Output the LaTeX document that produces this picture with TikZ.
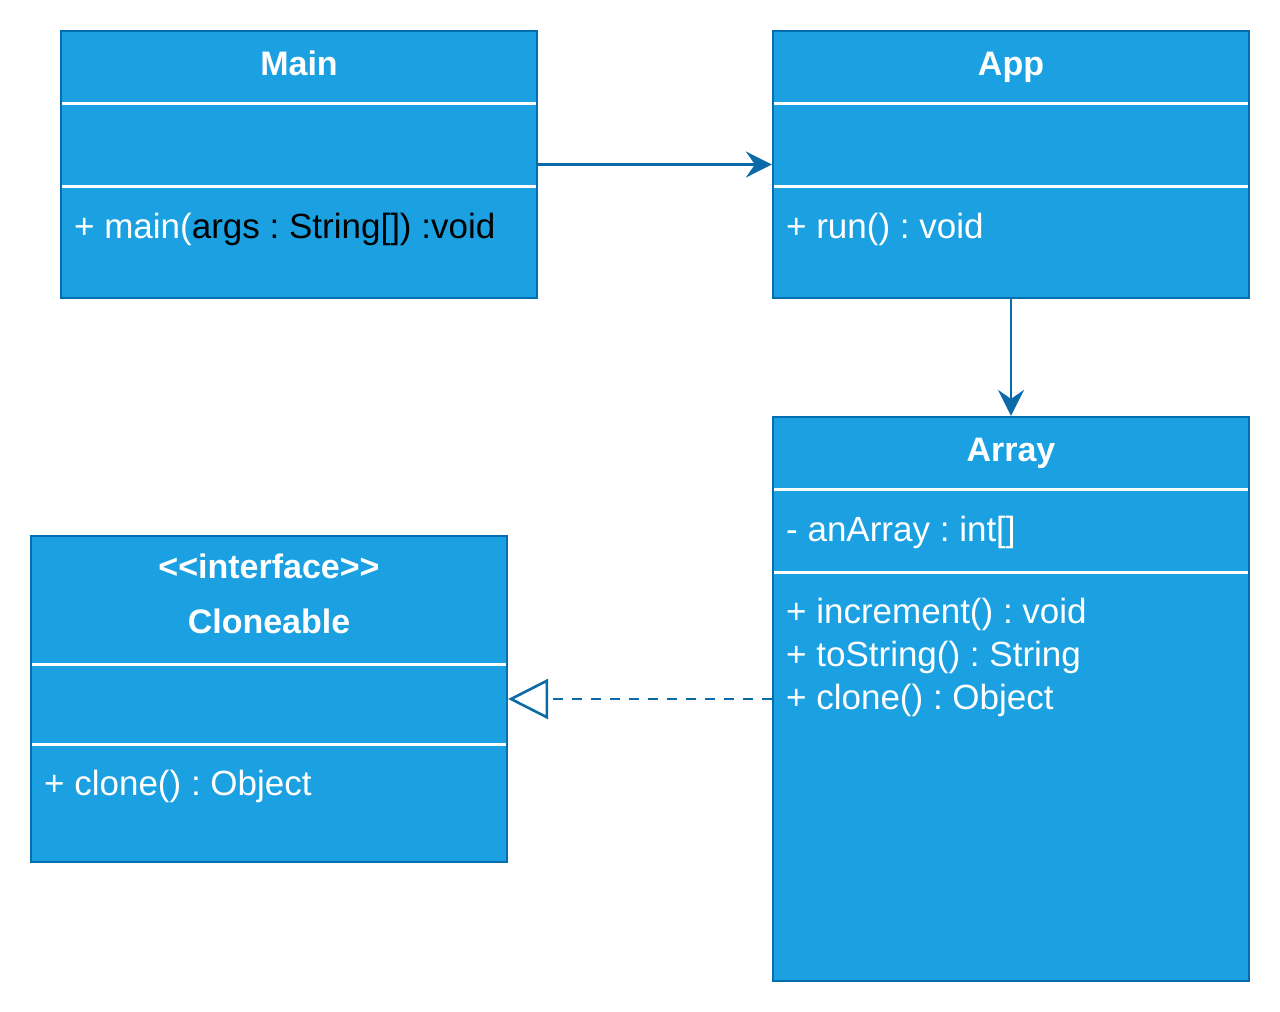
\documentclass[tikz,border=0pt]{standalone}
\usepackage{fontspec}
\setmainfont[Ligatures=NoCommon]{Liberation Sans}
\usetikzlibrary{arrows.meta}
\definecolor{boxfill}{HTML}{1BA1E2}
\definecolor{boxline}{HTML}{006EAF}
\definecolor{conn}{HTML}{0B6AA8}
\frenchspacing
\tikzset{
  umlbox/.style={draw=boxline, fill=boxfill, line width=2.2pt, inner sep=0pt, rectangle},
  sepline/.style={draw=white, line width=3pt},
  ttl/.style={anchor=base, text=white, inner sep=0pt, font=\fontsize{34}{40}\selectfont\bfseries\frenchspacing},
  member/.style={anchor=base west, text=white, inner sep=0pt, font=\fontsize{35}{42}\selectfont\frenchspacing},
  assoc/.style={draw=conn, line width=2.6pt, -{Stealth[length=26pt, width=26pt, inset=9pt]}},
  realize/.style={draw=conn, line width=2.6pt, dash pattern=on 10pt off 9pt, -{Triangle[open, length=40pt, width=40pt, line width=2.6pt]}},
}
\begin{document}
\begin{tikzpicture}[x=1pt,y=-1pt]
\useasboundingbox (0,0) rectangle (1280,1012);
% Main
\node[umlbox, minimum width=476pt, minimum height=267pt] (main) at (299,164.5) {};
\draw[sepline] (62,103) -- (536,103);
\draw[sepline] (62,186) -- (536,186);
\node[ttl] (maint) at (299,75) {Main};
\node[member] (mainm) at (74,238) {+ main(\textcolor{black}{args : String[]) :void}};
% App
\node[umlbox, minimum width=476pt, minimum height=267pt] (app) at (1011,164.5) {};
\draw[sepline] (774,103) -- (1248,103);
\draw[sepline] (774,186) -- (1248,186);
\node[ttl] (appt) at (1011,75) {App};
\node[member] (appm) at (786,238) {+ run() : void};
% Array
\node[umlbox, minimum width=476pt, minimum height=564pt] (array) at (1011,699) {};
\draw[sepline] (774,489) -- (1248,489);
\draw[sepline] (774,572) -- (1248,572);
\node[ttl] (arrayt) at (1011,461) {Array};
\node[member] (arraya) at (786,541) {- anArray : int[]};
\node[member] (arraym1) at (786,623) {+ increment() : void};
\node[member] (arraym2) at (786,666) {+ toString() : String};
\node[member] (arraym3) at (786,709) {+ clone() : Object};
% Cloneable
\node[umlbox, minimum width=476pt, minimum height=326pt] (clone) at (269,699) {};
\draw[sepline] (32,664) -- (506,664);
\draw[sepline] (32,744) -- (506,744);
\node[ttl] (clonet1) at (269,578) {{<}{<}interface{>}{>}};
\node[ttl] (clonet2) at (269,633) {Cloneable};
\node[member] (clonem) at (44,795) {+ clone() : Object};
% connectors
\draw[assoc] (main.east) -- (app.west);
\draw[assoc] (app.south) -- (array.north);
\draw[realize] (array.west |- clone.east) -- (clone.east);
\end{tikzpicture}
\end{document}
